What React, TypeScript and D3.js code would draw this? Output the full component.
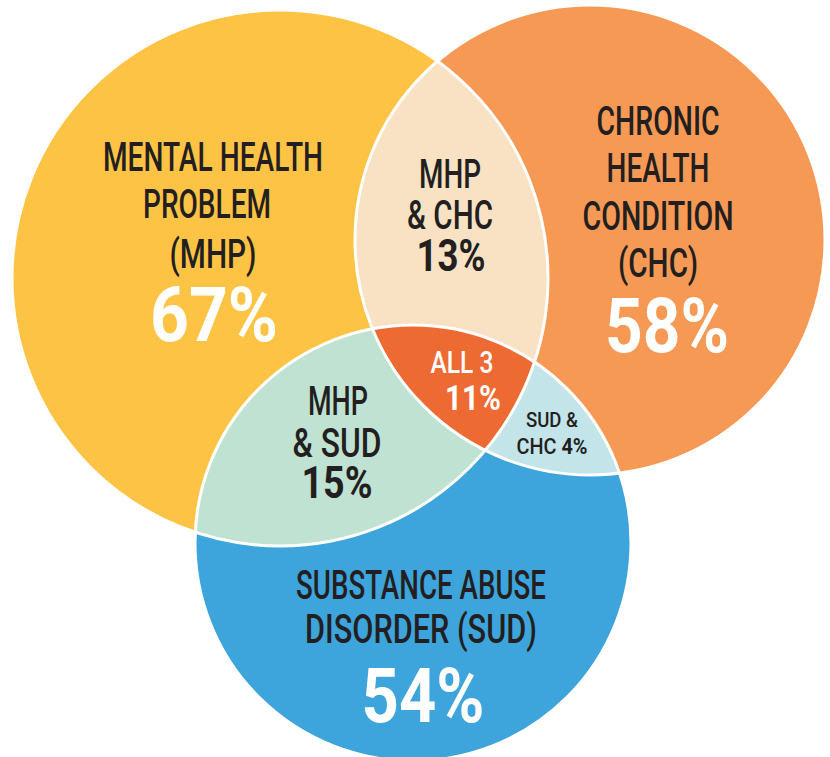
import React, { useRef, useEffect } from "react";
import * as d3 from "d3";

// values
const setNames = ["MHP", "CHC", "SUD"];
const setLabels = [
  ["MENTAL HEALTH", "PROBLEM", "(MHP)"],
  ["CHRONIC", "HEALTH", "CONDITION", "(CHC)"],
  ["SUBSTANCE ABUSE", "DISORDER (SUD)"],
];
const setValues = [67, 58, 54];
const pairSets = [["MHP", "CHC"], ["MHP", "SUD"], ["CHC", "SUD"]];
const pairLabels = [["MHP", "& CHC"], ["MHP", "& SUD"], ["SUD &", "CHC"]];
const pairValues = [13, 15, 4];
const allLabel = "ALL 3";
const allValue = 11;

// layout
const width = 830;
const height = 757;
const circles: Record<string, { cx: number; cy: number; r: number }> = {
  MHP: { cx: 280, cy: 278, r: 268 },
  CHC: { cx: 590, cy: 240, r: 235 },
  SUD: { cx: 413, cy: 543, r: 218 },
};
const setColors = ["#fdc345", "#f59955", "#3da4dc"];
const pairColors = ["#f9e2c4", "#c0e2d2", "#c3e4e8"];
const allColor = "#ee6a33";
const ink = "#231f20";
const font = "Roboto, 'Liberation Sans', Arial, sans-serif";

// [centre x, baseline y, width]
const setTextPos = [
  { lines: [[213, 171, 220], [207, 218, 128], [213, 268, 87]], pct: [214, 341, 128] },
  { lines: [[658, 135, 123], [658, 182, 103], [658, 230, 151], [658, 277, 80]], pct: [667, 352, 124] },
  { lines: [[421, 599, 250], [421, 643, 232]], pct: [423, 722, 123] },
];
const pairTextPos = [
  { lines: [[450, 188, 62], [450, 229, 86]], pct: [451, 271, 69] },
  { lines: [[338, 415, 60], [337, 457, 89]], pct: [337, 498, 71] },
  { lines: [[552, 427, 52], [552, 454, 71]], pct: null },
];
const allTextPos = { line: [462, 373, 63], pct: [473, 410, 56] };

function addText(g: any, str: string, pos: number[], size: number, weight: number, fill: string) {
  const [x, y, w] = pos;
  return g
    .append("text")
    .attr("x", x - w / 2)
    .attr("y", y)
    .attr("font-size", size)
    .attr("font-weight", weight)
    .attr("fill", fill)
    .attr("textLength", w)
    .attr("lengthAdjust", "spacingAndGlyphs")
    .text(str);
}

function Venn() {
  const ref = useRef<SVGSVGElement>(null);

  useEffect(() => {
    const svg = d3.select(ref.current);
    svg.selectAll("*").remove();

    const defs = svg.append("defs");
    setNames.forEach((n) => {
      const c = circles[n];
      defs.append("clipPath").attr("id", "clip-" + n)
        .append("circle").attr("cx", c.cx).attr("cy", c.cy).attr("r", c.r);
    });

    const shapes = svg.append("g");
    // single sets
    shapes.selectAll("circle.set")
      .data(setNames)
      .join("circle")
      .attr("class", "set")
      .attr("cx", (d) => circles[d].cx)
      .attr("cy", (d) => circles[d].cy)
      .attr("r", (d) => circles[d].r)
      .attr("fill", (d, i) => setColors[i]);

    // pairwise overlaps
    pairSets.forEach(([a, b], i) => {
      const c = circles[a];
      shapes.append("circle")
        .attr("cx", c.cx).attr("cy", c.cy).attr("r", c.r)
        .attr("clip-path", `url(#clip-${b})`)
        .attr("fill", pairColors[i]);
    });

    // all three
    const c0 = circles.MHP;
    shapes.append("g").attr("clip-path", "url(#clip-CHC)")
      .append("circle")
      .attr("cx", c0.cx).attr("cy", c0.cy).attr("r", c0.r)
      .attr("clip-path", "url(#clip-SUD)")
      .attr("fill", allColor);

    // white outlines
    shapes.selectAll("circle.edge")
      .data(setNames)
      .join("circle")
      .attr("class", "edge")
      .attr("cx", (d) => circles[d].cx)
      .attr("cy", (d) => circles[d].cy)
      .attr("r", (d) => circles[d].r)
      .attr("fill", "none")
      .attr("stroke", "#fff")
      .attr("stroke-width", 3);

    const txt = svg.append("g").attr("font-family", font);

    setLabels.forEach((lines, i) => {
      lines.forEach((l, j) => addText(txt, l, setTextPos[i].lines[j], 41, 500, ink));
      addText(txt, setValues[i] + "%", setTextPos[i].pct, 76, 700, "#fff");
    });

    pairLabels.forEach((lines, i) => {
      const pos = pairTextPos[i];
      if (pos.pct) {
        lines.forEach((l, j) => addText(txt, l, pos.lines[j], 41, 500, ink));
        addText(txt, pairValues[i] + "%", pos.pct, 44, 700, ink);
      } else {
        // small region: value sits on the second line
        addText(txt, lines[0], pos.lines[0], 21, 500, ink);
        const t = addText(txt, "", pos.lines[1], 22, 500, ink);
        t.append("tspan").text(lines[1] + " ");
        t.append("tspan").attr("font-weight", 700).text(pairValues[i] + "%");
      }
    });

    addText(txt, allLabel, allTextPos.line, 32, 500, "#fff");
    addText(txt, allValue + "%", allTextPos.pct, 35, 700, "#fff");
  }, []);

  return (
    <svg
      ref={ref}
      width={width}
      height={height}
      style={{ position: "absolute", left: 0, top: 0, display: "block" }}
    ></svg>
  );
}

export default function App() {
  return <Venn />;
}
